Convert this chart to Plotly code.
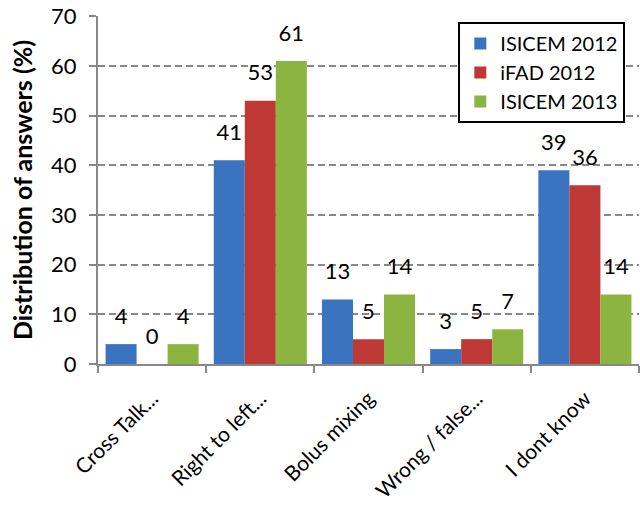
import plotly.graph_objects as go

categories = ["Cross Talk...", "Right to left...", "Bolus mixing", "Wrong / false...", "I dont know"]
series_names = ["ISICEM 2012", "iFAD 2012", "ISICEM 2013"]
isicem_2012 = [4, 41, 13, 3, 39]
ifad_2012 = [0, 53, 5, 5, 36]
isicem_2013 = [4, 61, 14, 7, 14]
colors = ["#3A74C0", "#BE3836", "#8CB441"]
y_ticks = [0, 10, 20, 30, 40, 50, 60, 70]

FONT = "Lato"
GAP = 0.14
fig = go.Figure()
series = [isicem_2012, ifad_2012, isicem_2013]
for name, vals, col in zip(series_names, series, colors):
    fig.add_trace(go.Bar(
        x=categories, y=vals, name=name,
        marker=dict(color=col, line=dict(width=0)),
        hoverinfo="x+y+name",
    ))
# value labels placed above bars (invisible markers give the label offset)
for name, vals in zip(series_names, series):
    fig.add_trace(go.Scatter(
        x=categories, y=vals, mode="markers+text",
        text=[str(v) for v in vals], textposition="top center",
        textfont=dict(family=FONT, size=22, color="black"),
        marker=dict(size=22, opacity=0),
        showlegend=False, hoverinfo="skip", cliponaxis=False,
    ))

fig.update_layout(
    width=640, height=525,
    margin=dict(l=98, r=1, t=16, b=161, autoexpand=False),
    paper_bgcolor="white", plot_bgcolor="white",
    barmode="group", bargap=GAP, bargroupgap=0,
    scattermode="group", scattergap=GAP,
    font=dict(family=FONT, size=21, color="black"),
    showlegend=True,
    legend=dict(
        x=0.666, y=0.983, xanchor="left", yanchor="top",
        bgcolor="white", bordercolor="black", borderwidth=2,
        font=dict(family=FONT, size=20, color="black"),
        tracegroupgap=0,
    ),
)
fig.update_xaxes(
    showline=True, linecolor="#888888", linewidth=2,
    ticks="outside", tickson="boundaries", ticklen=7, tickcolor="#888888", tickwidth=2,
    tickangle=-45, tickfont=dict(family=FONT, size=21, color="black"),
    ticklabelstandoff=12,
    showgrid=False,
)
fig.update_yaxes(
    range=[0, 70.06], tickvals=y_ticks,
    showline=True, linecolor="#888888", linewidth=2,
    ticks="outside", ticklen=7, tickcolor="#888888", tickwidth=2,
    tickfont=dict(family=FONT, size=22, color="black"),
    ticklabelstandoff=8, ticklabeloverflow="allow",
    showgrid=True, gridcolor="#888888", gridwidth=2, griddash="7px,4px",
    zeroline=False,
    title=dict(text="<b>Distribution of answers (%)</b>", font=dict(family=FONT, size=25, color="black"), standoff=11),
)
# remove the browser's default body margin so the figure fills the window exactly
fig.write_html(
    "out.html",
    config={"displayModeBar": False},
    post_script="document.body.style.margin='0';",
)
